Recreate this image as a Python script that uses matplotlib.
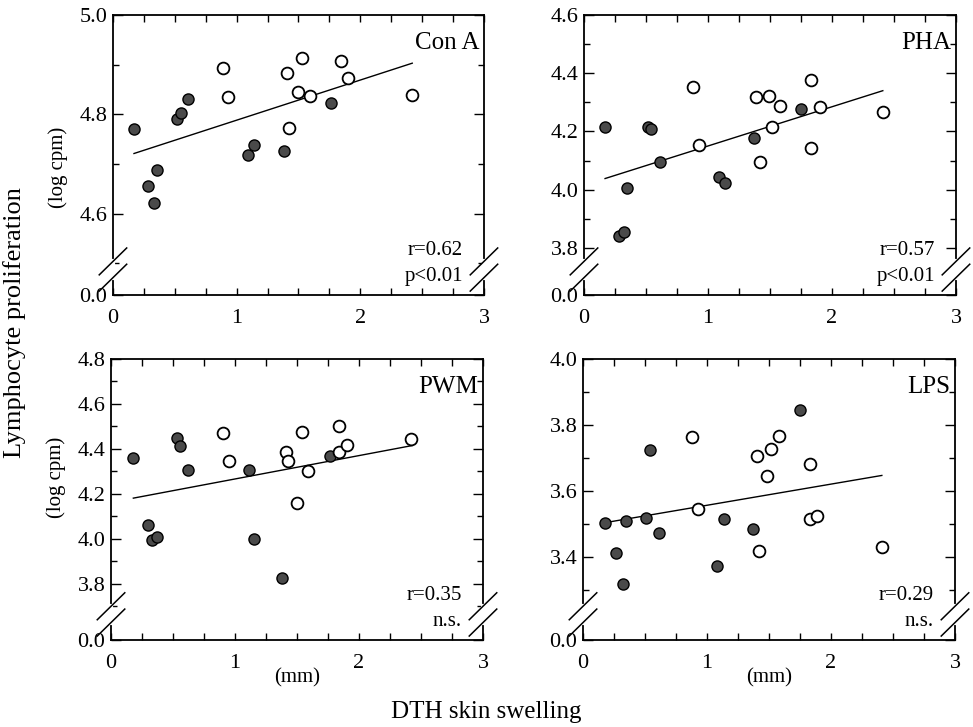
import numpy as np
import matplotlib
matplotlib.use("Agg")
import matplotlib.pyplot as plt
from matplotlib.ticker import FixedLocator, FuncFormatter

plt.rcParams['font.family'] = ['Liberation Serif', 'DejaVu Serif']

# --- data ---
panel_names = ["Con A", "PHA", "PWM", "LPS"]
stats_r = ["r=0.62", "r=0.57", "r=0.35", "r=0.29"]
stats_p = ["p<0.01", "p<0.01", "n.s.", "n.s."]

cona_filled_x = [0.17, 0.28, 0.33, 0.36, 0.52, 0.55, 0.61, 1.09, 1.14, 1.38, 1.76]
cona_filled_y = [4.771, 4.656, 4.622, 4.688, 4.791, 4.803, 4.830, 4.718, 4.739, 4.726, 4.822]
cona_open_x = [0.89, 0.93, 1.41, 1.42, 1.50, 1.53, 1.59, 1.84, 1.90, 2.42]
cona_open_y = [4.893, 4.835, 4.883, 4.772, 4.844, 4.914, 4.837, 4.907, 4.873, 4.838]
cona_fit_x = [0.17, 2.42]
cona_fit_y = [4.721, 4.903]

pha_filled_x = [0.17, 0.28, 0.32, 0.35, 0.52, 0.54, 0.61, 1.09, 1.14, 1.37, 1.75]
pha_filled_y = [4.214, 3.842, 3.853, 4.007, 4.214, 4.210, 4.096, 4.044, 4.023, 4.179, 4.277]
pha_open_x = [0.88, 0.93, 1.39, 1.42, 1.49, 1.52, 1.58, 1.83, 1.83, 1.90, 2.41]
pha_open_y = [4.352, 4.153, 4.320, 4.096, 4.322, 4.214, 4.286, 4.376, 4.142, 4.283, 4.266]
pha_fit_x = [0.17, 2.41]
pha_fit_y = [4.038, 4.340]

pwm_filled_x = [0.18, 0.30, 0.33, 0.37, 0.53, 0.56, 0.62, 1.11, 1.15, 1.38, 1.77]
pwm_filled_y = [4.358, 4.063, 3.993, 4.007, 4.449, 4.413, 4.305, 4.305, 4.001, 3.826, 4.367]
pwm_open_x = [0.90, 0.95, 1.41, 1.43, 1.50, 1.54, 1.59, 1.84, 1.84, 1.90, 2.42]
pwm_open_y = [4.469, 4.348, 4.388, 4.346, 4.160, 4.475, 4.302, 4.502, 4.388, 4.418, 4.445]
pwm_fit_x = [0.18, 2.43]
pwm_fit_y = [4.181, 4.415]

lps_filled_x = [0.18, 0.27, 0.32, 0.35, 0.51, 0.54, 0.61, 1.08, 1.14, 1.37, 1.75]
lps_filled_y = [3.504, 3.412, 3.319, 3.509, 3.517, 3.725, 3.472, 3.374, 3.514, 3.484, 3.846]
lps_open_x = [0.88, 0.93, 1.40, 1.42, 1.48, 1.52, 1.58, 1.83, 1.83, 1.89, 2.41]
lps_open_y = [3.763, 3.544, 3.706, 3.419, 3.646, 3.727, 3.766, 3.683, 3.515, 3.524, 3.431]
lps_fit_x = [0.18, 2.41]
lps_fit_y = [3.504, 3.647]

# y axis: top value, lower end of the linear part, labelled ticks
y_top = [5.0, 4.6, 4.8, 4.0]
y_low = [4.49, 3.73, 3.67, 3.23]
y_ticks = [[4.6, 4.8, 5.0],
           [3.8, 4.0, 4.2, 4.4, 4.6],
           [3.8, 4.0, 4.2, 4.4, 4.6, 4.8],
           [3.4, 3.6, 3.8, 4.0]]
x_ticks = [0, 1, 2, 3]

filled = [(cona_filled_x, cona_filled_y), (pha_filled_x, pha_filled_y),
          (pwm_filled_x, pwm_filled_y), (lps_filled_x, lps_filled_y)]
opened = [(cona_open_x, cona_open_y), (pha_open_x, pha_open_y),
          (pwm_open_x, pwm_open_y), (lps_open_x, lps_open_y)]
fits = [(cona_fit_x, cona_fit_y), (pha_fit_x, pha_fit_y),
        (pwm_fit_x, pwm_fit_y), (lps_fit_x, lps_fit_y)]

fig = plt.figure(figsize=(9.73, 7.27), dpi=100)
boxes = [[0.1161, 0.5942, 0.3813, 0.3851], [0.6002, 0.5942, 0.3823, 0.3851],
         [0.1141, 0.1197, 0.3823, 0.3865], [0.5992, 0.1197, 0.3823, 0.3865]]
frac = 0.096  # share of the height taken by the squeezed 0..low part


def make_scale(low, top):
    g = (top - low) * frac / (1 - frac)

    def fwd(y):
        y = np.asarray(y, dtype=float)
        return np.where(y >= low, y, low - g * (low - y) / low)

    def inv(u):
        u = np.asarray(u, dtype=float)
        return np.where(u >= low, u, low - (low - u) * low / g)
    return fwd, inv


def break_marks(ax, x0):
    # white gap in the spine, then the // marks
    ax.plot([x0, x0], [0.062, 0.12], color='white', lw=3, transform=ax.transAxes,
            clip_on=False, zorder=5)
    for yc in (0.12, 0.062):
        ax.plot([x0 - 0.037, x0 + 0.037], [yc - 0.048, yc + 0.048], color='black',
                lw=1.1, transform=ax.transAxes, clip_on=False, zorder=6)


axes = []
for i in range(4):
    ax = fig.add_axes(boxes[i])
    axes.append(ax)
    fwd, inv = make_scale(y_low[i], y_top[i])
    ax.set_yscale('function', functions=(fwd, inv))
    ax.set_ylim(0, y_top[i])
    ax.set_xlim(0, 3)

    fx, fy = fits[i]
    ax.plot(fx, fy, color='black', lw=1.0, zorder=2)
    ax.scatter(filled[i][0], filled[i][1], s=64, facecolor='#4a4a4a', edgecolor='black',
               linewidth=1.0, zorder=3)
    ax.scatter(opened[i][0], opened[i][1], s=72, facecolor='white', edgecolor='black',
               linewidth=1.3, zorder=4)

    ax.yaxis.set_major_locator(FixedLocator([0.0] + y_ticks[i]))
    ax.yaxis.set_major_formatter(FuncFormatter(lambda v, p: "%.1f" % v))
    minors = [round(t + 0.1, 2) for t in y_ticks[i][:-1]]
    if y_ticks[i][0] - 0.1 > y_low[i]:
        minors.append(round(y_ticks[i][0] - 0.1, 2))
    ax.yaxis.set_minor_locator(FixedLocator(minors))
    ax.xaxis.set_major_locator(FixedLocator(x_ticks))
    ax.xaxis.set_minor_locator(FixedLocator(np.arange(0.25, 3, 0.25)))
    ax.tick_params(which='both', direction='in', top=True, right=True, labelsize=16)
    ax.tick_params(axis='y', which='major', length=7, width=1.0, pad=4)
    ax.tick_params(axis='y', which='minor', length=4, width=1.0)
    ax.tick_params(axis='x', which='both', length=5, width=1.0, pad=10)
    for sp in ax.spines.values():
        sp.set_linewidth(1.3)

    break_marks(ax, 0.0)
    break_marks(ax, 1.0)

    ax.text(0.987, 0.90, panel_names[i], transform=ax.transAxes, ha='right',
            va='center', fontsize=18)
    ax.text(0.943, 0.16, stats_r[i], transform=ax.transAxes, ha='right',
            va='center', fontsize=15)
    ax.text(0.943, 0.066, stats_p[i], transform=ax.transAxes, ha='right',
            va='center', fontsize=15)

axes[0].text(-0.148, 0.457, "(log cpm)", transform=axes[0].transAxes, rotation=90,
             ha='center', va='center', fontsize=15)
axes[2].text(-0.148, 0.58, "(log cpm)", transform=axes[2].transAxes, rotation=90,
             ha='center', va='center', fontsize=15)
for ax in axes[2:]:
    ax.text(1.5, -0.135, "(mm)", transform=ax.get_xaxis_transform(), ha='center',
            va='center', fontsize=15)

fig.text(0.015, 0.556, "Lymphocyte proliferation", rotation=90, ha='center',
         va='center', fontsize=19)
fig.text(0.5, 0.021, "DTH skin swelling", ha='center', va='center', fontsize=18)

fig.savefig("out.png", dpi=100, facecolor='white')
